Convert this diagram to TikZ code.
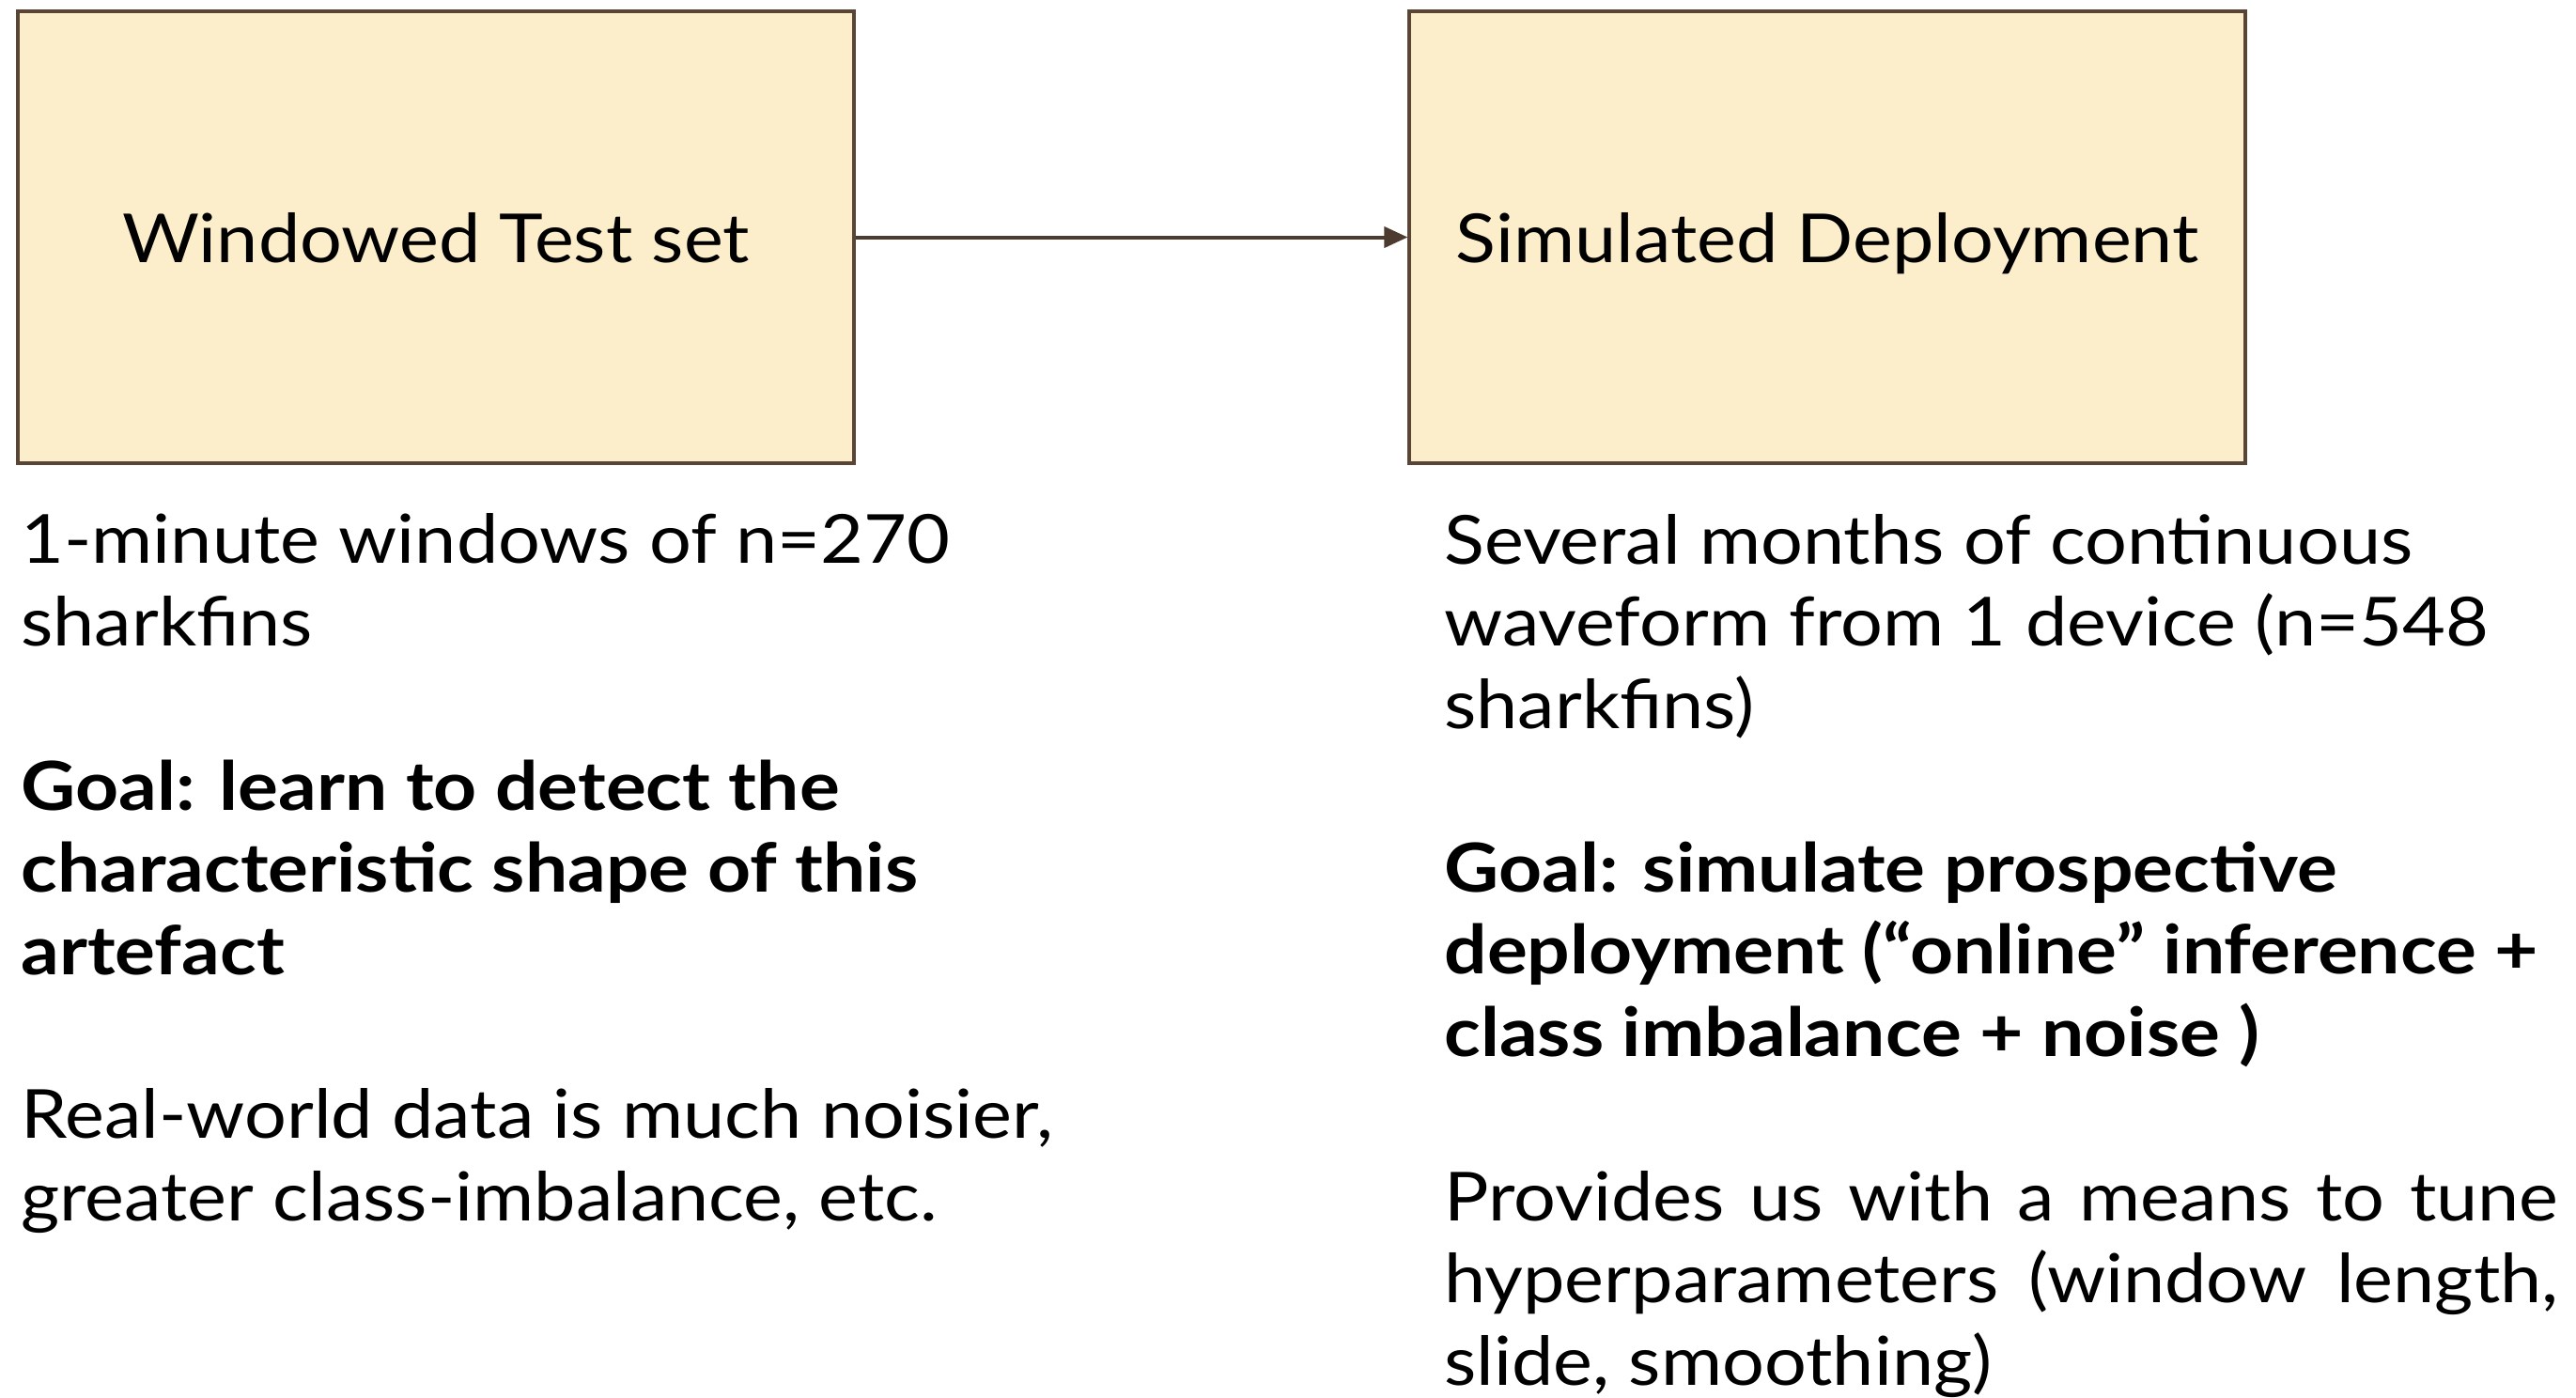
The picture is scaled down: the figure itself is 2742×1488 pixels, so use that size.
\documentclass[tikz,border=0pt]{standalone}
\usepackage{fontspec}
\setmainfont{Lato}[FakeStretch=1.1, BoldFeatures={FakeStretch=1.115}]
\usetikzlibrary{arrows.meta}
\definecolor{boxfill}{HTML}{FCEECA}
\definecolor{boxline}{HTML}{584536}
\definecolor{arrowcol}{HTML}{4E3B30}
\tikzset{
  stagebox/.style={draw=boxline, fill=boxfill, line width=1.6pt, minimum width=445pt, minimum height=240.5pt, inner sep=0pt, text height=27pt, text depth=0pt, font=\fontsize{36}{43.7}\selectfont},
  para/.style={anchor=base west, align=left, inner sep=0pt, font=\fontsize{36}{43.7}\selectfont},
  boldpara/.style={para, font=\fontsize{36}{43.7}\selectfont\bfseries},
  flow/.style={draw=arrowcol, line width=2pt, -{Triangle[length=12.5pt,width=11pt]}}
}
\begin{document}
\begin{tikzpicture}[x=0.5pt,y=-0.5pt]
\useasboundingbox (0,0) rectangle (2742,1488);
\node[stagebox] (test) at (464,252.5) {Windowed Test set};
\node[stagebox] (sim) at (1945,252.5) {Simulated Deployment};
\draw[flow] (test.east) -- (sim.west);

% anchors are at the baseline of each paragraph's last line
\node[para] (l1) at (22,687) {1-minute windows of n=270\\sharkfins};
\node[boldpara] (l2) at (22,1037) {Goal: learn to detect the\\characteristic shape of this\\artefact};
\node[para] (l3) at (22,1299) {Real-world data is much noisier,\\greater class-imbalance, etc.};

\node[para] (r1) at (1537,775) {Several months of continuous\\waveform from 1 device (n=548\\sharkfins)};
\node[boldpara] (r2) at (1537,1124) {Goal: simulate prospective\\deployment (“online” inference +\\class imbalance + noise )};
\node[para] (r3) at (1537,1474) {\makebox[593pt][s]{Provides us with a means to tune}\\\makebox[593pt][s]{hyperparameters (window length,}\\slide, smoothing)};
\end{tikzpicture}
\end{document}
